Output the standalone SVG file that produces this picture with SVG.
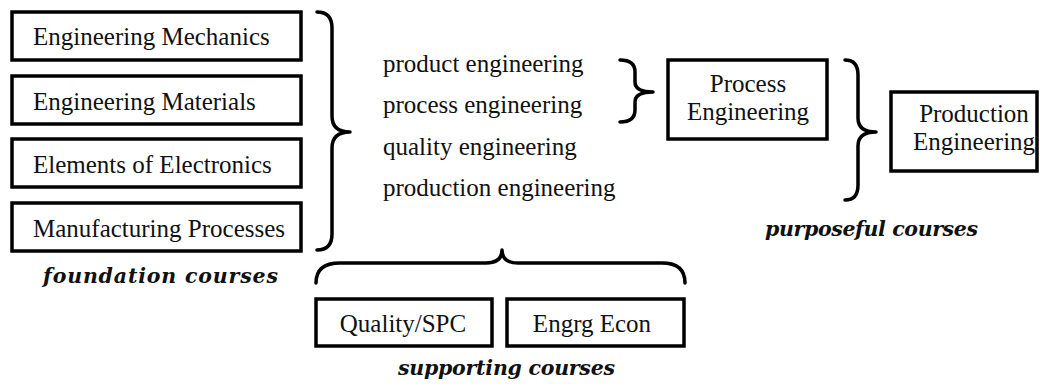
<svg xmlns="http://www.w3.org/2000/svg" width="1040" height="386" viewBox="0 0 1040 386">
<style>
.box{fill:#fff;stroke:#000;stroke-width:3.5}
.t{font-family:"Liberation Serif","DejaVu Serif",serif;font-size:25px;fill:#111}
.tc{text-anchor:middle}
.lbl{font-family:"DejaVu Serif","Liberation Serif",serif;font-weight:bold;font-style:italic;font-size:20.5px;fill:#111}
.br{fill:none;stroke:#000;stroke-width:3.5;stroke-linecap:round;stroke-linejoin:round}
</style>
<rect width="1040" height="386" fill="#fff"/>
<g id="n-mechanics"><rect class="box" x="12" y="12" width="289" height="48"/><text class="t" x="33" y="45">Engineering Mechanics</text></g>
<g id="n-materials"><rect class="box" x="12" y="76" width="289" height="48"/><text class="t" x="33" y="110">Engineering Materials</text></g>
<g id="n-electronics"><rect class="box" x="12" y="139" width="289" height="48"/><text class="t" x="33" y="173">Elements of Electronics</text></g>
<g id="n-manufacturing"><rect class="box" x="12" y="203" width="289" height="48"/><text class="t" x="33" y="237">Manufacturing Processes</text></g>
<text class="lbl" x="43" y="283" textLength="235">foundation courses</text>
<g id="n-list">
<text class="t" x="383" y="72">product engineering</text>
<text class="t" x="383" y="113">process engineering</text>
<text class="t" x="383" y="155">quality engineering</text>
<text class="t" x="383" y="196">production engineering</text>
</g>
<g id="n-process"><rect class="box" x="668" y="60" width="159" height="79"/><text class="t tc" x="748" y="92">Process</text><text class="t tc" x="748" y="120">Engineering</text></g>
<g id="n-production"><rect class="box" x="891" y="92" width="146" height="79"/><text class="t tc" x="974" y="122">Production</text><text class="t tc" x="974" y="150">Engineering</text></g>
<text class="lbl" x="765" y="236" textLength="213">purposeful courses</text>
<g id="n-quality"><rect class="box" x="316" y="299" width="176" height="47"/><text class="t tc" x="403" y="332">Quality/SPC</text></g>
<g id="n-econ"><rect class="box" x="507" y="299" width="177" height="47"/><text class="t tc" x="592" y="332">Engrg Econ</text></g>
<text class="lbl" x="398" y="375" textLength="217">supporting courses</text>
<g id="connectors">
<path class="br" d="M317 12 Q332 12 332 28 L332 116 Q332 132 350 132 Q332 132 332 148 L332 234 Q332 250 317 250"/>
<path class="br" d="M620 60 Q635 60 635 72 L635 82 Q635 92 653 92 Q635 92 635 102 L635 110 Q635 122 620 122"/>
<path class="br" d="M845 60 Q858 60 858 75 L858 118 Q858 132 876 132 Q858 132 858 146 L858 185 Q858 200 845 200"/>
<path class="br" d="M316 283 Q316 263 340 263 L486 263 Q502 263 502 250 Q502 263 518 263 L662 263 Q685 263 685 283"/>
</g>
</svg>
